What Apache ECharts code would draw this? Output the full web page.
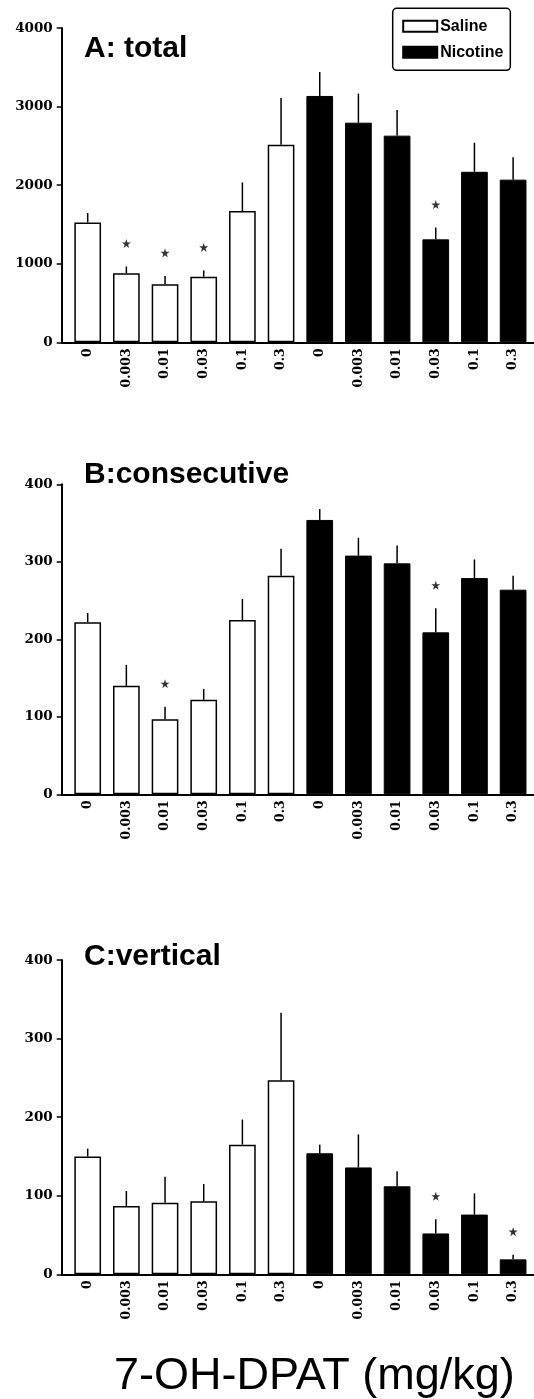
<!DOCTYPE html>
<html>
<head>
<meta charset="utf-8">
<script src="https://cdn.jsdelivr.net/npm/echarts@6/dist/echarts.min.js"></script>
<style>
html, body { margin: 0; padding: 0; background: #fff; }
#chart { width: 534px; height: 1399px; }
</style>
</head>
<body>
<div id="chart"></div>
<script>
// Dose labels (mg/kg), saline group first, then nicotine group
const doses = ['0', '0.003', '0.01', '0.03', '0.1', '0.3', '0', '0.003', '0.01', '0.03', '0.1', '0.3'];

// A: total
const totalSaline = [1525, 880, 740, 835, 1670, 2515];
const totalSalineSem = [120, 85, 105, 80, 365, 595];
const totalNicotine = [3135, 2795, 2630, 1310, 2170, 2070];
const totalNicotineSem = [305, 370, 325, 150, 370, 285];
const totalSig = [0, 1, 1, 1, 0, 0, 0, 0, 0, 1, 0, 0];
const totalMax = 4000, totalStep = 1000;

// B: consecutive
const consSaline = [222, 140, 97, 122, 225, 282];
const consSalineSem = [12, 27, 16, 14, 27, 35];
const consNicotine = [354, 308, 298, 209, 279, 264];
const consNicotineSem = [14, 23, 23, 31, 24, 18];
const consSig = [0, 0, 1, 0, 0, 0, 0, 0, 0, 1, 0, 0];
const consMax = 400, consStep = 100;

// C: vertical
const vertSaline = [150, 87, 91, 93, 165, 247];
const vertSalineSem = [10, 19, 33, 22, 32, 86];
const vertNicotine = [154, 136, 112, 52, 76, 19];
const vertNicotineSem = [11, 42, 19, 18, 27, 6];
const vertSig = [0, 0, 0, 0, 0, 0, 0, 0, 0, 1, 0, 1];
const vertMax = 400, vertStep = 100;

const panelTitles = ['A: total', 'B:consecutive', 'C:vertical'];
const xTitle = '7-OH-DPAT (mg/kg)';

const panels = [
  { saline: totalSaline, salineSem: totalSalineSem, nic: totalNicotine, nicSem: totalNicotineSem, sig: totalSig, max: totalMax, step: totalStep },
  { saline: consSaline, salineSem: consSalineSem, nic: consNicotine, nicSem: consNicotineSem, sig: consSig, max: consMax, step: consStep },
  { saline: vertSaline, salineSem: vertSalineSem, nic: vertNicotine, nicSem: vertNicotineSem, sig: vertSig, max: vertMax, step: vertStep }
];

const grids = [
  { left: 61.7, right: 0, top: 28, height: 314.3 },
  { left: 61.7, right: 0, top: 484.3, height: 310 },
  { left: 61.7, right: 0, top: 960, height: 314.3 }
];
const titleTops = [29, 455, 937];

const STAR = 'path://M50,0 L61.8,35.1 L98.1,35.1 L68.8,56.8 L79.4,91.9 L50,70.3 L20.6,91.9 L31.2,56.8 L1.9,35.1 L38.2,35.1 Z';
const tickIdx = doses.map((d, i) => i);

const xAxes = [], yAxes = [], series = [], titles = [];

panels.forEach((p, k) => {
  titles.push({
    text: panelTitles[k], left: 79, top: titleTops[k],
    textStyle: { fontFamily: 'Liberation Sans', fontWeight: 'bold', fontSize: 30, color: '#000' }
  });
  xAxes.push({
    gridIndex: k, type: 'value', min: -0.672, max: 11.54,
    axisLine: { show: true, lineStyle: { color: '#000', width: 2 } },
    axisTick: { show: false },
    splitLine: { show: false },
    axisLabel: {
      customValues: tickIdx,
      formatter: v => doses[Math.round(v)],
      rotate: 90, margin: 6, color: '#000',
      fontFamily: 'DejaVu Serif', fontWeight: 'bold', fontSize: 12.5
    }
  });
  yAxes.push({
    gridIndex: k, type: 'value', min: 0, max: p.max, interval: p.step,
    axisLine: { show: true, onZero: false, lineStyle: { color: '#000', width: 2 } },
    axisTick: { show: true, length: 5, lineStyle: { color: '#000', width: 1.5 } },
    splitLine: { show: false },
    axisLabel: {
      margin: 9, color: '#000', fontFamily: 'DejaVu Serif', fontWeight: 'bold', fontSize: 13.5,
      formatter: v => String(v)
    }
  });

  const means = p.saline.concat(p.nic);
  const sems = p.salineSem.concat(p.nicSem);

  series.push({
    name: 'Saline', type: 'bar', xAxisIndex: k, yAxisIndex: k,
    barWidth: 26.7, barGap: '-100%',
    itemStyle: { color: '#fff', borderColor: '#000', borderWidth: 1.5 },
    data: p.saline.map((v, i) => [i, v])
  });
  series.push({
    name: 'Nicotine', type: 'bar', xAxisIndex: k, yAxisIndex: k,
    barWidth: 26.7, barGap: '-100%',
    itemStyle: { color: '#000', borderColor: '#000', borderWidth: 1 },
    data: p.nic.map((v, i) => [i + 6, v])
  });
  // upper error bars (mean + SEM)
  series.push({
    type: 'custom', xAxisIndex: k, yAxisIndex: k, z: 3,
    data: means.map((m, i) => [i, m, sems[i]]),
    renderItem: (params, api) => {
      const x = api.value(0), m = api.value(1), s = api.value(2);
      const a = api.coord([x, m]);
      const b = api.coord([x, m + s]);
      return {
        type: 'line',
        shape: { x1: a[0], y1: a[1], x2: b[0], y2: b[1] },
        style: { stroke: '#000', lineWidth: 1.5 }
      };
    }
  });
  // significance stars above the error bars
  series.push({
    type: 'scatter', xAxisIndex: k, yAxisIndex: k, z: 4,
    symbol: STAR, symbolSize: 9, symbolOffset: [0, -23],
    itemStyle: { color: '#000' },
    data: means.map((m, i) => [i, m + sems[i], p.sig[i]]).filter(d => d[2] === 1)
  });
});

titles.push({
  text: xTitle, left: 109, top: 1349,
  textStyle: { fontFamily: 'Liberation Sans', fontWeight: 'normal', fontSize: 45, color: '#000' }
});

const chart = echarts.init(document.getElementById('chart'), null, { renderer: 'canvas' });
chart.setOption({
  animation: false,
  backgroundColor: '#fff',
  title: titles,
  legend: {
    data: [{ name: 'Saline', icon: 'rect' }, { name: 'Nicotine', icon: 'rect' }],
    orient: 'vertical', left: 392.7, top: 8.3,
    itemWidth: 34, itemHeight: 11, itemGap: 10,
    padding: [10, 7, 10, 9.5],
    borderColor: '#000', borderWidth: 1.5, borderRadius: 4,
    textStyle: { fontFamily: 'Liberation Sans', fontWeight: 'bold', fontSize: 16, color: '#000', padding: [0, 0, 0, -2] }
  },
  grid: grids,
  xAxis: xAxes,
  yAxis: yAxes,
  series: series
});
</script>
</body>
</html>
